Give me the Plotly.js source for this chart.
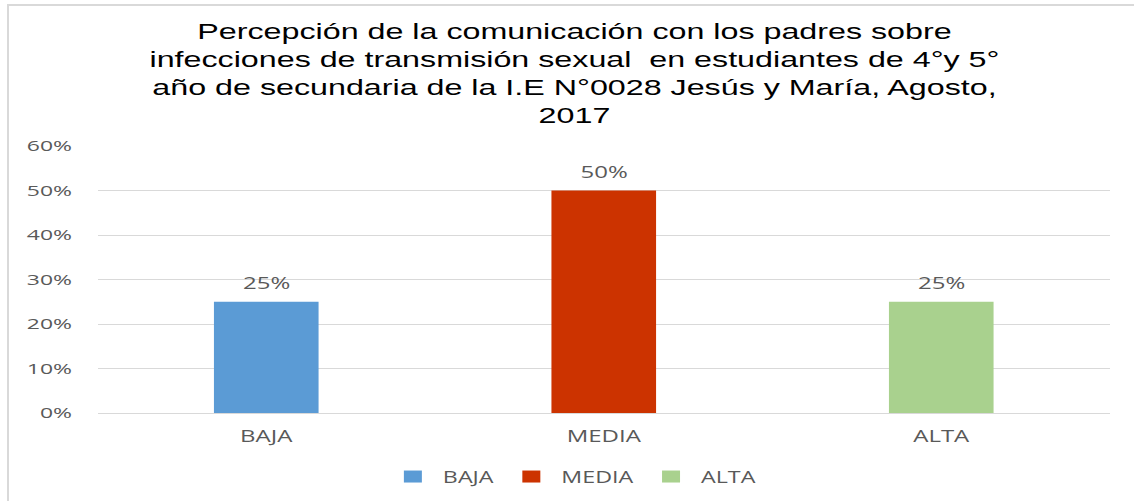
<!DOCTYPE html>
<html>
<head>
<meta charset="utf-8">
<script src="https://cdn.plot.ly/plotly-3.0.1.min.js"></script>
<style>
  html, body { margin: 0; padding: 0; background: #ffffff; overflow: hidden; }
  #wrap { position: relative; width: 1134px; height: 501px; overflow: hidden; }
  /* the reference picture is stretched horizontally by about 1.5x; reproduce that stretch */
  #chart { width: 756px; height: 501px; transform: scaleX(1.5); transform-origin: 0 0; }
  #frame { position: absolute; left: 7px; top: 4px; width: 1140px; height: 520px;
           border-left: 2px solid #d9d9d9; border-top: 2px solid #d9d9d9; pointer-events: none; }
</style>
</head>
<body>
<div id="wrap">
  <div id="chart"></div>
  <div id="frame"></div>
</div>
<script>
const categories = ["BAJA", "MEDIA", "ALTA"];
const values = [0.25, 0.50, 0.25];
const colors = ["#5B9BD5", "#CC3300", "#A9D18E"];
const yTickValues = [0, 0.1, 0.2, 0.3, 0.4, 0.5, 0.6];
const yTickLabels = ["0%", "10%", "20%", "30%", "40%", "50%", "60%"];
const titleText = "Percepción de la comunicación con los padres sobre<br>infecciones de transmisión sexual  en estudiantes de 4°y 5°<br>año de secundaria de la I.E N°0028 Jesús y María, Agosto,<br>2017";

const textColor = "#595959";
const traces = categories.map((c, i) => ({
  type: "bar",
  name: c,
  x: [c],
  y: [values[i]],
  width: 0.31,
  marker: { color: colors[i] },
  hoverinfo: "x+y"
}));

const annotations = categories.map((c, i) => ({
  x: c, y: values[i], xref: "x", yref: "y",
  text: Math.round(values[i] * 100) + "%",
  showarrow: false, yanchor: "bottom", yshift: 6,
  font: { family: "Open Sans, sans-serif", size: 16, color: textColor }
}));

const layout = {
  width: 756, height: 501,
  margin: { l: 65.3, r: 16, t: 146, b: 88 },
  paper_bgcolor: "#ffffff", plot_bgcolor: "#ffffff",
  title: {
    text: titleText,
    x: 0.5066, xanchor: "center", xref: "container",
    y: 0.922, yanchor: "top", yref: "container",
    font: { family: "Liberation Sans, Arial, sans-serif", size: 21.5, color: "#000000" }
  },
  barmode: "overlay",
  showlegend: true,
  legend: {
    orientation: "h", x: 0.470, xanchor: "center", xref: "paper",
    y: 0.048, yanchor: "middle", yref: "container",
    font: { family: "Open Sans, sans-serif", size: 15.5, color: textColor },
    itemwidth: 30, traceorder: "normal"
  },
  xaxis: {
    type: "category", categoryorder: "array", categoryarray: categories,
    showgrid: false, showline: false, zeroline: false, ticks: "",
    tickfont: { family: "Open Sans, sans-serif", size: 16, color: textColor },
    ticklabelstandoff: 12
  },
  yaxis: {
    range: [0, 0.6], tickvals: yTickValues, ticktext: yTickLabels,
    showgrid: true, gridcolor: "#d9d9d9", gridwidth: 1,
    zeroline: true, zerolinecolor: "#d9d9d9", zerolinewidth: 1,
    showline: false, ticks: "",
    tickfont: { family: "Open Sans, sans-serif", size: 15.3, color: textColor },
    ticklabelstandoff: 16
  },
  annotations: annotations
};

Plotly.newPlot("chart", traces, layout, { displayModeBar: false });
</script>
</body>
</html>
